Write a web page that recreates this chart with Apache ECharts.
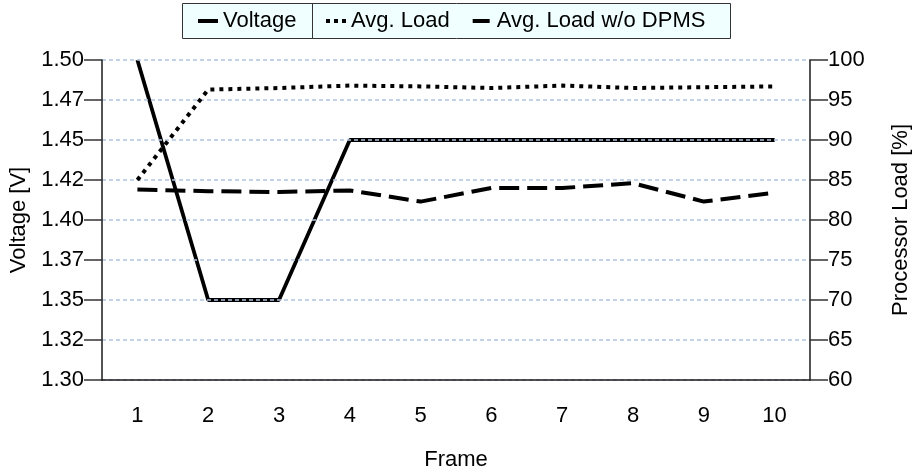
<!DOCTYPE html>
<html><head><meta charset="utf-8">
<script src="https://cdn.jsdelivr.net/npm/echarts@6/dist/echarts.min.js"></script>
<style>html,body{margin:0;padding:0;background:#fff}#c{width:915px;height:474px}</style>
</head><body><div id="c"></div>
<script>
const frames = ['1','2','3','4','5','6','7','8','9','10'];
const voltage = [1.50, 1.35, 1.35, 1.45, 1.45, 1.45, 1.45, 1.45, 1.45, 1.45];
const avgLoad = [85.0, 96.3, 96.5, 96.8, 96.7, 96.5, 96.8, 96.5, 96.6, 96.7];
const avgLoadNoDpms = [83.8, 83.6, 83.5, 83.7, 82.3, 84.0, 84.0, 84.6, 82.3, 83.4];
const voltageTicks = ['1.30','1.32','1.35','1.37','1.40','1.42','1.45','1.47','1.50'];

const FONT = 'Liberation Sans, Arial, Helvetica, sans-serif';
const FS = 22;
const legendText = {fontSize: FS, color: '#000', fontFamily: FONT};
const chart = echarts.init(document.getElementById('c'), null, {renderer: 'canvas'});
chart.setOption({
  animation: false,
  textStyle: {fontFamily: FONT},
  grid: {left: 102, right: 105, top: 60, bottom: 94, outerBoundsMode: 'none', containLabel: false},
  legend: [{
    left: 198, top: 10, padding: 0,
    itemWidth: 20, itemHeight: 4, itemGap: 0,
    textStyle: legendText,
    data: [{name: 'Voltage', icon: 'rect'}]
  }, {
    left: 326, top: 10, padding: 0,
    itemWidth: 20, itemHeight: 4, itemGap: 22,
    textStyle: legendText,
    data: [
      {name: 'Avg. Load', icon: 'path://M0,0h4v4h-4zM8,0h4v4h-4zM16,0h4v4h-4z'},
      {name: 'Avg. Load w/o DPMS', icon: 'path://M0,0M20,4M1,0h17v4h-17z'}
    ]
  }],
  graphic: [{
    type: 'rect', z: 1,
    shape: {x: 182.5, y: 3.5, width: 548, height: 35},
    style: {fill: '#f0ffff', stroke: '#333', lineWidth: 1}
  }, {
    type: 'line', z: 2,
    shape: {x1: 312.5, y1: 4, x2: 312.5, y2: 38},
    style: {stroke: '#333', lineWidth: 1}
  }],
  xAxis: {
    type: 'category', data: frames, z: 4,
    name: 'Frame', nameLocation: 'middle', nameGap: 69,
    nameTextStyle: {fontSize: FS, color: '#000', fontFamily: FONT},
    axisLine: {lineStyle: {color: '#1a1a1a', width: 1.5}},
    axisTick: {alignWithLabel: true, length: 20, lineStyle: {color: '#333', width: 1.5}},
    axisLabel: {fontSize: FS, color: '#000', margin: 25, fontFamily: FONT},
    splitLine: {show: false}
  },
  yAxis: [{
    type: 'value', min: 1.3, max: 1.5, interval: 0.025, z: 3,
    name: 'Voltage [V]', nameLocation: 'middle', nameGap: 71,
    nameTextStyle: {fontSize: FS, color: '#000', fontFamily: FONT},
    axisLine: {show: true, lineStyle: {color: '#1a1a1a', width: 1.5}},
    axisTick: {show: true, length: 18, lineStyle: {color: '#333', width: 1.5}},
    axisLabel: {fontSize: FS, color: '#000', margin: 18, fontFamily: FONT,
      formatter: v => voltageTicks[Math.round((v - 1.3) / 0.025)]},
    splitLine: {show: true, lineStyle: {color: '#b0c4de', type: [4, 3], width: 1.5}}
  }, {
    type: 'value', min: 60, max: 100, interval: 5, position: 'right', z: 4,
    name: 'Processor Load [%]', nameLocation: 'middle', nameGap: 80,
    nameTextStyle: {fontSize: FS, color: '#000', fontFamily: FONT},
    axisLine: {show: true, lineStyle: {color: '#1a1a1a', width: 1.5}},
    axisTick: {show: true, length: 18, lineStyle: {color: '#333', width: 1.5}},
    axisLabel: {fontSize: FS, color: '#000', margin: 18, fontFamily: FONT},
    splitLine: {show: false}
  }],
  series: [{
    name: 'Voltage', type: 'line', yAxisIndex: 0, data: voltage, z: 1,
    symbol: 'none', lineStyle: {color: '#000', width: 3.8}, itemStyle: {color: '#000'}
  }, {
    name: 'Avg. Load', type: 'line', yAxisIndex: 1, data: avgLoad,
    symbol: 'none', lineStyle: {color: '#000', width: 4, type: [4, 5]}, itemStyle: {color: '#000'}
  }, {
    name: 'Avg. Load w/o DPMS', type: 'line', yAxisIndex: 1, data: avgLoadNoDpms,
    symbol: 'none', lineStyle: {color: '#000', width: 4, type: [20, 8]}, itemStyle: {color: '#000'}
  }]
});
</script></body></html>
